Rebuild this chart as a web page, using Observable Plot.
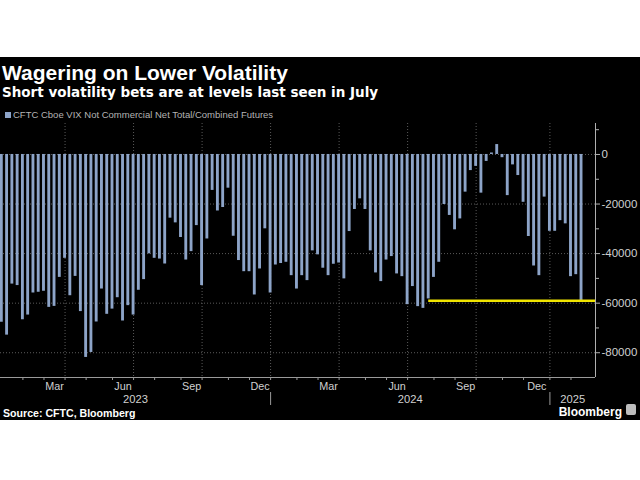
<!DOCTYPE html>
<html><head><meta charset="utf-8">
<script src="https://cdn.jsdelivr.net/npm/d3@7"></script>
<script src="https://cdn.jsdelivr.net/npm/@observablehq/plot@0.6"></script>
<style>
html,body{margin:0;padding:0;background:#fff;}
#page{position:relative;width:640px;height:480px;overflow:hidden;background:#fff;font-family:"Liberation Sans",Arial,sans-serif;}
#card{position:absolute;left:0;top:57px;width:640px;height:363px;background:#000;}
.t{position:absolute;white-space:nowrap;line-height:1;}
#title{left:2px;top:62.4px;font-size:21px;font-weight:bold;color:#fff;}
#subtitle{left:2px;top:86.2px;font-size:13.5px;font-weight:bold;color:#fff;font-family:"DejaVu Sans",sans-serif;}
#legend{left:5px;top:110px;font-size:9.5px;color:#b4b4b4;}
#legend .sw{display:inline-block;width:6px;height:6px;background:#8da4c8;margin-right:2px;vertical-align:0px;}
#chart{position:absolute;left:0;top:118px;}
#source{left:3px;top:407.5px;font-size:10.6px;font-weight:bold;color:#fff;}
#brand{right:18px;top:405.5px;font-size:12px;font-weight:bold;color:#fff;}
#icon{position:absolute;left:626px;top:404px;width:10px;height:11px;background:#bdbdbd;border-radius:2px;}
</style></head>
<body>
<div id="page">
  <div id="card"></div>
  <div class="t" id="title">Wagering on Lower Volatility</div>
  <div class="t" id="subtitle">Short volatility bets are at levels last seen in July</div>
  <div class="t" id="legend"><span class="sw"></span>CFTC Cboe VIX Not Commercial Net Total/Combined Futures</div>
  <div id="chart"></div>
  <div class="t" id="source">Source: CFTC, Bloomberg</div>
  <div class="t" id="brand">Bloomberg</div>
  <div id="icon"></div>
</div>
<script>
// Weekly CFTC report dates (Tuesdays)
const weeks = d3.utcTuesday.range(new Date("2023-01-10"), new Date("2025-02-19"));
// Net positions (contracts)
const values = [
  -67700, -72900, -52300, -52900, -66700, -64800, -55900, -55600, -55200, -61700,
  -61300, -49600, -41900, -57000, -49200, -63400, -81900, -79900, -67600, -54300,
  -64500, -62400, -57800, -67200, -61000, -64800, -54800, -50500, -40100, -41900,
  -42200, -44200, -25700, -27600, -33500, -42600, -39200, -28700, -52900, -34100,
  -14500, -22800, -21400, -13600, -33000, -42800, -47300, -47300, -56700, -46200,
  -30000, -55900, -44600, -44000, -43500, -48900, -54300, -48900, -50900, -38900,
  -40500, -45900, -48900, -44300, -43800, -50200, -31100, -22200, -17900, -22200,
  -38900, -47800, -51300, -42600, -41200, -48200, -49300, -60600, -53300, -61400,
  -62100, -58300, -49600, -43500, -20200, -24600, -30400, -26000, -15200, -6500,
  -4800, -15600, -2800, 600, 4000, -1300, -16600, -4200, -8500, -19300,
  -33100, -45000, -48900, -17200, -31000, -31000, -26700, -28000, -49300, -48500,
  -59000
];
const yLabelTicks = [0, -20000, -40000, -60000, -80000];
const yMinorTicks = [10000, -10000, -30000, -50000, -70000];
const labelMonths = [2, 5, 8, 11]; // Mar, Jun, Sep, Dec
const refDate = new Date("2024-07-30"); // the July level

const data = weeks.map((date, i) => ({i, date, value: values[i]}));
const xMin = -0.25, xMax = 112.65;
const yDomain = [-90000, 12500];

// month boundaries (first bar of each new month)
const monthStarts = data.filter((d, i) => i > 0 && d.date.getUTCMonth() !== data[i - 1].date.getUTCMonth()).map(d => d.i);
const quarterStarts = monthStarts.filter(i => weeks[i].getUTCMonth() % 3 === 0);
const yearStarts = monthStarts.filter(i => weeks[i].getUTCMonth() === 0);
const fmtMonth = d3.utcFormat("%b");
const monthLabels = new Map();
monthStarts.forEach((s, k) => {
  if (labelMonths.includes(weeks[s].getUTCMonth()) && k + 1 < monthStarts.length) {
    monthLabels.set((s + monthStarts[k + 1]) / 2, fmtMonth(weeks[s]));
  }
});
const yearEdges = [xMin, ...yearStarts, xMax];
const yearLabels = new Map();
for (let k = 0; k < yearEdges.length - 1; k++) {
  const first = k === 0 ? 0 : yearEdges[k];
  yearLabels.set((yearEdges[k] + yearEdges[k + 1]) / 2, String(weeks[first].getUTCFullYear()));
}
const refIndex = weeks.findIndex(d => +d === +refDate);
const lastValue = values[values.length - 1];

const font = "'Liberation Sans', Arial, sans-serif";
const chart = Plot.plot({
  width: 640, height: 300,
  marginLeft: 0, marginRight: 45, marginTop: 5, marginBottom: 41,
  style: {background: "transparent", color: "#cfcfcf", fontFamily: font},
  x: {type: "linear", domain: [xMin, xMax], label: null},
  y: {domain: yDomain, label: null},
  marks: [
    Plot.gridY({ticks: yLabelTicks, stroke: "#5a5a5a", strokeOpacity: 1, strokeDasharray: "1,2"}),
    Plot.gridX({ticks: quarterStarts, stroke: "#5a5a5a", strokeOpacity: 1, strokeDasharray: "1,2"}),
    Plot.rectY(data, {x1: d => d.i - 0.5, x2: d => d.i + 0.5, y: "value", insetLeft: 1.2, insetRight: 1.2, fill: "#8da4c8"}),
    Plot.ruleY([lastValue], {x1: refIndex, x2: xMax, stroke: "#f0e400", strokeWidth: 2.6}),
    Plot.ruleY([yDomain[0]], {stroke: "#9a9a9a"}),
    Plot.ruleX([xMax], {stroke: "#b0b0b0"}),
    Plot.axisY({anchor: "right", label: null, ticks: yLabelTicks, tickSize: 4, tickPadding: 2, tickFormat: d => String(d), fontSize: 11.5, stroke: "#b0b0b0", fill: "#d0d0d0"}),
    Plot.axisY({anchor: "right", label: null, ticks: yMinorTicks, tickSize: 3, tickFormat: () => "", stroke: "#b0b0b0"}),
    Plot.axisX({anchor: "bottom", label: null, ticks: monthStarts, tickSize: 3, tickFormat: () => "", stroke: "#9a9a9a"}),
    Plot.axisX({anchor: "bottom", label: null, ticks: [...monthLabels.keys()], tickSize: 0, tickPadding: 5, tickFormat: d => monthLabels.get(d), fontSize: 10.8, fill: "#d0d0d0"}),
    Plot.axisX({anchor: "bottom", label: null, ticks: [...yearLabels.keys()], tickSize: 0, tickPadding: 18, tickFormat: d => yearLabels.get(d), fontSize: 11.2, fill: "#d0d0d0"}),
    Plot.axisX({anchor: "bottom", label: null, ticks: yearStarts, tickSize: 13, dy: 15, tickFormat: () => "", stroke: "#9a9a9a"})
  ]
});
document.getElementById("chart").appendChild(chart);
</script>
</body></html>
